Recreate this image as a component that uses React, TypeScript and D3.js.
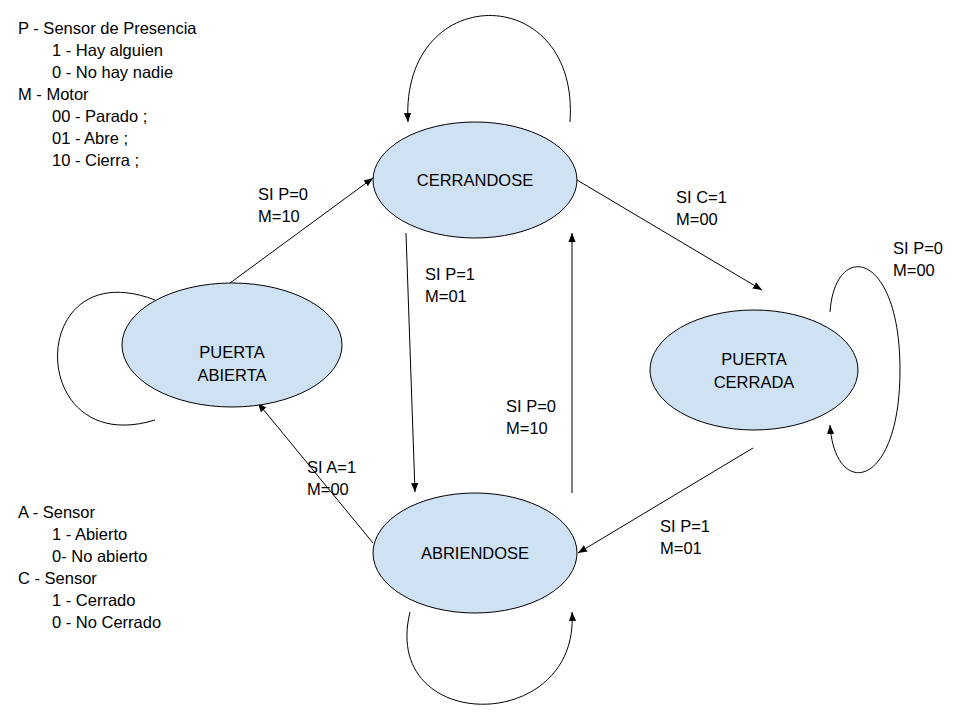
import * as d3 from "d3"

const states = [
  { id: "cerrandose", label: ["CERRANDOSE"], cx: 475, cy: 180, rx: 102, ry: 58, dy: 0 },
  { id: "abierta", label: ["PUERTA", "ABIERTA"], cx: 232, cy: 345, rx: 110, ry: 62, dy: 18 },
  { id: "cerrada", label: ["PUERTA", "CERRADA"], cx: 754, cy: 370, rx: 104, ry: 60, dy: 0 },
  { id: "abriendose", label: ["ABRIENDOSE"], cx: 475, cy: 553, rx: 102, ry: 60, dy: 0 },
]

const edges = [
  { d: "M230,283 L373,178", text: ["SI P=0", "M=10"], tx: 258, ty: 200, arrow: true },
  { d: "M577,180 L762,290", text: ["SI C=1", "M=00"], tx: 676, ty: 203, arrow: true },
  { d: "M406,233 L415,492", text: ["SI P=1", "M=01"], tx: 425, ty: 280, arrow: true },
  { d: "M572,493 L572,233", text: ["SI P=0", "M=10"], tx: 506, ty: 412, arrow: true },
  { d: "M373,543 L258,403", text: ["SI A=1", "M=00"], tx: 307, ty: 473, arrow: true },
  { d: "M753,448 L578,553", text: ["SI P=1", "M=01"], tx: 660, ty: 532, arrow: true },
  { d: "M570,122 C580,-20 400,-20 408,122", text: [], tx: 0, ty: 0, arrow: true },
  { d: "M155,300 C25,250 25,460 155,420", text: [], tx: 0, ty: 0, arrow: false },
  { d: "M830,312 C835,240 900,250 900,370 C900,490 835,500 830,425", text: ["SI P=0", "M=00"], tx: 893, ty: 254, arrow: true },
  { d: "M410,612 C380,735 580,735 572,612", text: [], tx: 0, ty: 0, arrow: true },
]

const legendTop = ["P - Sensor de Presencia", "\t1 - Hay alguien", "\t0 - No hay nadie", "M - Motor", "\t00 - Parado ;", "\t01 - Abre ;", "\t10 - Cierra ;"]
const legendBottom = ["A - Sensor", "\t1 - Abierto", "\t0- No abierto", "C - Sensor", "\t1 - Cerrado", "\t0 - No Cerrado"]

const font = "Liberation Sans, Arial, sans-serif"
const fs = 16.5

function Legend({ lines, x, y }: { lines: string[]; x: number; y: number }) {
  return (
    <g>
      {lines.map((l, i) => (
        <text key={i} x={l.startsWith("\t") ? x + 34 : x} y={y + i * 22} fontSize={fs} fontFamily={font}>
          {l.replace("\t", "")}
        </text>
      ))}
    </g>
  )
}

export default function App() {
  void d3
  return (
    <svg width={960} height={720} style={{ position: "absolute", left: 0, top: 0, background: "#fff" }}>
      <defs>
        <marker id="ah" viewBox="0 0 10 10" refX={10} refY={5} markerWidth={9} markerHeight={9} orient="auto" markerUnits="userSpaceOnUse">
          <path d="M0,1 L10,5 L0,9 z" fill="#000" />
        </marker>
      </defs>
      {edges.map((e, i) => (
        <path key={i} d={e.d} fill="none" stroke="#000" strokeWidth={1} markerEnd={e.arrow ? "url(#ah)" : undefined} />
      ))}
      {states.map((s) => (
        <g key={s.id}>
          <ellipse cx={s.cx} cy={s.cy} rx={s.rx} ry={s.ry} fill="#cfe2f3" stroke="#000" strokeWidth={1} />
          {s.label.map((t, i) => (
            <text key={i} x={s.cx} y={s.cy + s.dy + (i - (s.label.length - 1) / 2) * 23 + 6} textAnchor="middle" fontSize={fs} fontFamily={font}>
              {t}
            </text>
          ))}
        </g>
      ))}
      {edges.map((e, i) =>
        e.text.map((t, j) => (
          <text key={`${i}-${j}`} x={e.tx} y={e.ty + j * 22} fontSize={fs} fontFamily={font}>
            {t}
          </text>
        ))
      )}
      <Legend lines={legendTop} x={18} y={34} />
      <Legend lines={legendBottom} x={18} y={518} />
    </svg>
  )
}
